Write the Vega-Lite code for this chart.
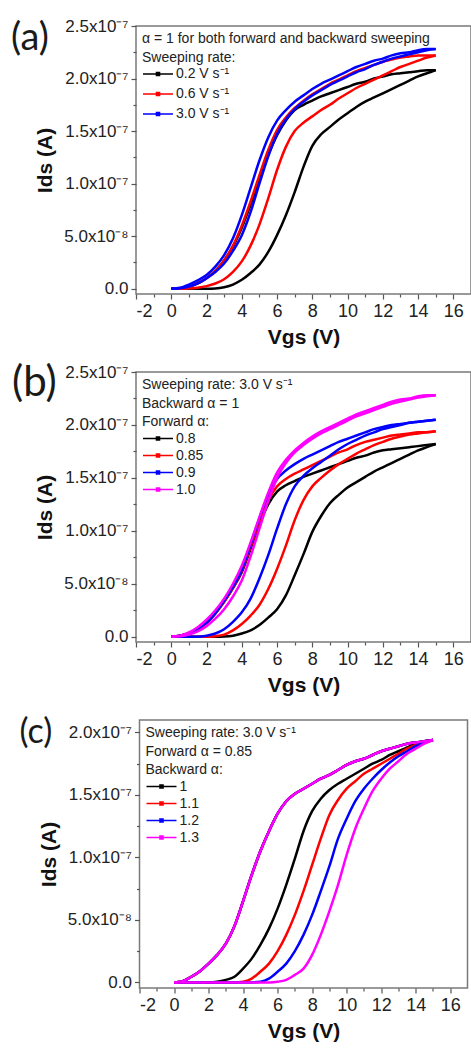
{
"$schema":"https://vega.github.io/schema/vega-lite/v6.json",
"padding":{"left":10,"top":16,"right":0,"bottom":0},
"config":{
 "font":"Liberation Sans",
 "view":{"stroke":"#7a7a7a","strokeWidth":1.5},
 "axis":{"domain":false,"grid":false,"ticks":true,"tickColor":"#555","tickWidth":1.2,"tickSize":5,"labelColor":"#222","labelFontSize":17,"labelPadding":3,"titleColor":"#111","titleFontSize":21,"titleFontWeight":"bold"},
 "legend":{"orient":"top-left","offset":6,"padding":0,"titleFontSize":14,"titleFontWeight":"normal","titleColor":"#222","titleLineHeight":18.5,"titlePadding":1,"titleLimit":400,"labelFontSize":14,"labelColor":"#222","labelOffset":2,"symbolType":"M-1,0H1M-0.1,-0.1H0.1V0.1H-0.1Z","symbolSize":900,"symbolStrokeWidth":1.6,"clipHeight":17,"rowPadding":0},
 "title":{"font":"Lato","fontWeight":"normal","anchor":"start","frame":"group","color":"#1a1a1a"},
 "concat":{"spacing":78}
},
"datasets":{
"a":[
{"s":"0.2 V s⁻¹","d":"f","v":0,"i":0},{"s":"0.2 V s⁻¹","d":"f","v":0.5,"i":0},{"s":"0.2 V s⁻¹","d":"f","v":1,"i":0},{"s":"0.2 V s⁻¹","d":"f","v":1.5,"i":0},{"s":"0.2 V s⁻¹","d":"f","v":2,"i":0},{"s":"0.2 V s⁻¹","d":"f","v":2.5,"i":0.003e-7},{"s":"0.2 V s⁻¹","d":"f","v":3,"i":0.015e-7},{"s":"0.2 V s⁻¹","d":"f","v":3.5,"i":0.04e-7},{"s":"0.2 V s⁻¹","d":"f","v":4,"i":0.085e-7},{"s":"0.2 V s⁻¹","d":"f","v":4.5,"i":0.15e-7},{"s":"0.2 V s⁻¹","d":"f","v":5,"i":0.23e-7},{"s":"0.2 V s⁻¹","d":"f","v":5.5,"i":0.35e-7},{"s":"0.2 V s⁻¹","d":"f","v":6,"i":0.51e-7},{"s":"0.2 V s⁻¹","d":"f","v":6.5,"i":0.70e-7},{"s":"0.2 V s⁻¹","d":"f","v":7,"i":0.92e-7},{"s":"0.2 V s⁻¹","d":"f","v":7.5,"i":1.16e-7},{"s":"0.2 V s⁻¹","d":"f","v":8,"i":1.36e-7},{"s":"0.2 V s⁻¹","d":"f","v":8.5,"i":1.47e-7},{"s":"0.2 V s⁻¹","d":"f","v":9,"i":1.54e-7},{"s":"0.2 V s⁻¹","d":"f","v":9.5,"i":1.61e-7},{"s":"0.2 V s⁻¹","d":"f","v":10,"i":1.67e-7},{"s":"0.2 V s⁻¹","d":"f","v":10.5,"i":1.73e-7},{"s":"0.2 V s⁻¹","d":"f","v":11,"i":1.78e-7},{"s":"0.2 V s⁻¹","d":"f","v":11.5,"i":1.82e-7},{"s":"0.2 V s⁻¹","d":"f","v":12,"i":1.86e-7},{"s":"0.2 V s⁻¹","d":"f","v":12.5,"i":1.90e-7},{"s":"0.2 V s⁻¹","d":"f","v":13,"i":1.94e-7},{"s":"0.2 V s⁻¹","d":"f","v":13.5,"i":1.98e-7},{"s":"0.2 V s⁻¹","d":"f","v":14,"i":2.02e-7},{"s":"0.2 V s⁻¹","d":"f","v":14.5,"i":2.05e-7},{"s":"0.2 V s⁻¹","d":"f","v":15,"i":2.08e-7},
{"s":"0.2 V s⁻¹","d":"b","v":0,"i":0},{"s":"0.2 V s⁻¹","d":"b","v":0.5,"i":0.005e-7},{"s":"0.2 V s⁻¹","d":"b","v":1,"i":0.02e-7},{"s":"0.2 V s⁻¹","d":"b","v":1.5,"i":0.05e-7},{"s":"0.2 V s⁻¹","d":"b","v":2,"i":0.10e-7},{"s":"0.2 V s⁻¹","d":"b","v":2.5,"i":0.17e-7},{"s":"0.2 V s⁻¹","d":"b","v":3,"i":0.27e-7},{"s":"0.2 V s⁻¹","d":"b","v":3.5,"i":0.40e-7},{"s":"0.2 V s⁻¹","d":"b","v":4,"i":0.58e-7},{"s":"0.2 V s⁻¹","d":"b","v":4.5,"i":0.80e-7},{"s":"0.2 V s⁻¹","d":"b","v":5,"i":1.04e-7},{"s":"0.2 V s⁻¹","d":"b","v":5.5,"i":1.27e-7},{"s":"0.2 V s⁻¹","d":"b","v":6,"i":1.46e-7},{"s":"0.2 V s⁻¹","d":"b","v":6.5,"i":1.60e-7},{"s":"0.2 V s⁻¹","d":"b","v":7,"i":1.70e-7},{"s":"0.2 V s⁻¹","d":"b","v":7.5,"i":1.75e-7},{"s":"0.2 V s⁻¹","d":"b","v":8,"i":1.79e-7},{"s":"0.2 V s⁻¹","d":"b","v":8.5,"i":1.83e-7},{"s":"0.2 V s⁻¹","d":"b","v":9,"i":1.86e-7},{"s":"0.2 V s⁻¹","d":"b","v":9.5,"i":1.89e-7},{"s":"0.2 V s⁻¹","d":"b","v":10,"i":1.92e-7},{"s":"0.2 V s⁻¹","d":"b","v":10.5,"i":1.95e-7},{"s":"0.2 V s⁻¹","d":"b","v":11,"i":1.97e-7},{"s":"0.2 V s⁻¹","d":"b","v":11.5,"i":2.00e-7},{"s":"0.2 V s⁻¹","d":"b","v":12,"i":2.02e-7},{"s":"0.2 V s⁻¹","d":"b","v":12.5,"i":2.04e-7},{"s":"0.2 V s⁻¹","d":"b","v":13,"i":2.05e-7},{"s":"0.2 V s⁻¹","d":"b","v":13.5,"i":2.06e-7},{"s":"0.2 V s⁻¹","d":"b","v":14,"i":2.07e-7},{"s":"0.2 V s⁻¹","d":"b","v":14.5,"i":2.08e-7},{"s":"0.2 V s⁻¹","d":"b","v":15,"i":2.08e-7},
{"s":"0.6 V s⁻¹","d":"f","v":0,"i":0},{"s":"0.6 V s⁻¹","d":"f","v":0.5,"i":0},{"s":"0.6 V s⁻¹","d":"f","v":1,"i":0.002e-7},{"s":"0.6 V s⁻¹","d":"f","v":1.5,"i":0.01e-7},{"s":"0.6 V s⁻¹","d":"f","v":2,"i":0.025e-7},{"s":"0.6 V s⁻¹","d":"f","v":2.5,"i":0.05e-7},{"s":"0.6 V s⁻¹","d":"f","v":3,"i":0.09e-7},{"s":"0.6 V s⁻¹","d":"f","v":3.5,"i":0.16e-7},{"s":"0.6 V s⁻¹","d":"f","v":4,"i":0.26e-7},{"s":"0.6 V s⁻¹","d":"f","v":4.5,"i":0.41e-7},{"s":"0.6 V s⁻¹","d":"f","v":5,"i":0.61e-7},{"s":"0.6 V s⁻¹","d":"f","v":5.5,"i":0.86e-7},{"s":"0.6 V s⁻¹","d":"f","v":6,"i":1.13e-7},{"s":"0.6 V s⁻¹","d":"f","v":6.5,"i":1.35e-7},{"s":"0.6 V s⁻¹","d":"f","v":7,"i":1.50e-7},{"s":"0.6 V s⁻¹","d":"f","v":7.5,"i":1.58e-7},{"s":"0.6 V s⁻¹","d":"f","v":8,"i":1.64e-7},{"s":"0.6 V s⁻¹","d":"f","v":8.5,"i":1.70e-7},{"s":"0.6 V s⁻¹","d":"f","v":9,"i":1.75e-7},{"s":"0.6 V s⁻¹","d":"f","v":9.5,"i":1.81e-7},{"s":"0.6 V s⁻¹","d":"f","v":10,"i":1.86e-7},{"s":"0.6 V s⁻¹","d":"f","v":10.5,"i":1.91e-7},{"s":"0.6 V s⁻¹","d":"f","v":11,"i":1.95e-7},{"s":"0.6 V s⁻¹","d":"f","v":11.5,"i":1.99e-7},{"s":"0.6 V s⁻¹","d":"f","v":12,"i":2.03e-7},{"s":"0.6 V s⁻¹","d":"f","v":12.5,"i":2.07e-7},{"s":"0.6 V s⁻¹","d":"f","v":13,"i":2.11e-7},{"s":"0.6 V s⁻¹","d":"f","v":13.5,"i":2.14e-7},{"s":"0.6 V s⁻¹","d":"f","v":14,"i":2.17e-7},{"s":"0.6 V s⁻¹","d":"f","v":14.5,"i":2.20e-7},{"s":"0.6 V s⁻¹","d":"f","v":15,"i":2.22e-7},
{"s":"0.6 V s⁻¹","d":"b","v":0,"i":0},{"s":"0.6 V s⁻¹","d":"b","v":0.5,"i":0.005e-7},{"s":"0.6 V s⁻¹","d":"b","v":1,"i":0.02e-7},{"s":"0.6 V s⁻¹","d":"b","v":1.5,"i":0.05e-7},{"s":"0.6 V s⁻¹","d":"b","v":2,"i":0.10e-7},{"s":"0.6 V s⁻¹","d":"b","v":2.5,"i":0.17e-7},{"s":"0.6 V s⁻¹","d":"b","v":3,"i":0.27e-7},{"s":"0.6 V s⁻¹","d":"b","v":3.5,"i":0.41e-7},{"s":"0.6 V s⁻¹","d":"b","v":4,"i":0.60e-7},{"s":"0.6 V s⁻¹","d":"b","v":4.5,"i":0.83e-7},{"s":"0.6 V s⁻¹","d":"b","v":5,"i":1.08e-7},{"s":"0.6 V s⁻¹","d":"b","v":5.5,"i":1.32e-7},{"s":"0.6 V s⁻¹","d":"b","v":6,"i":1.51e-7},{"s":"0.6 V s⁻¹","d":"b","v":6.5,"i":1.63e-7},{"s":"0.6 V s⁻¹","d":"b","v":7,"i":1.72e-7},{"s":"0.6 V s⁻¹","d":"b","v":7.5,"i":1.79e-7},{"s":"0.6 V s⁻¹","d":"b","v":8,"i":1.85e-7},{"s":"0.6 V s⁻¹","d":"b","v":8.5,"i":1.90e-7},{"s":"0.6 V s⁻¹","d":"b","v":9,"i":1.95e-7},{"s":"0.6 V s⁻¹","d":"b","v":9.5,"i":1.99e-7},{"s":"0.6 V s⁻¹","d":"b","v":10,"i":2.03e-7},{"s":"0.6 V s⁻¹","d":"b","v":10.5,"i":2.07e-7},{"s":"0.6 V s⁻¹","d":"b","v":11,"i":2.10e-7},{"s":"0.6 V s⁻¹","d":"b","v":11.5,"i":2.13e-7},{"s":"0.6 V s⁻¹","d":"b","v":12,"i":2.16e-7},{"s":"0.6 V s⁻¹","d":"b","v":12.5,"i":2.18e-7},{"s":"0.6 V s⁻¹","d":"b","v":13,"i":2.20e-7},{"s":"0.6 V s⁻¹","d":"b","v":13.5,"i":2.21e-7},{"s":"0.6 V s⁻¹","d":"b","v":14,"i":2.22e-7},{"s":"0.6 V s⁻¹","d":"b","v":14.5,"i":2.22e-7},{"s":"0.6 V s⁻¹","d":"b","v":15,"i":2.22e-7},
{"s":"3.0 V s⁻¹","d":"f","v":0,"i":0},{"s":"3.0 V s⁻¹","d":"f","v":0.5,"i":0.005e-7},{"s":"3.0 V s⁻¹","d":"f","v":1,"i":0.02e-7},{"s":"3.0 V s⁻¹","d":"f","v":1.5,"i":0.05e-7},{"s":"3.0 V s⁻¹","d":"f","v":2,"i":0.10e-7},{"s":"3.0 V s⁻¹","d":"f","v":2.5,"i":0.16e-7},{"s":"3.0 V s⁻¹","d":"f","v":3,"i":0.24e-7},{"s":"3.0 V s⁻¹","d":"f","v":3.5,"i":0.36e-7},{"s":"3.0 V s⁻¹","d":"f","v":4,"i":0.51e-7},{"s":"3.0 V s⁻¹","d":"f","v":4.5,"i":0.73e-7},{"s":"3.0 V s⁻¹","d":"f","v":5,"i":1.00e-7},{"s":"3.0 V s⁻¹","d":"f","v":5.5,"i":1.26e-7},{"s":"3.0 V s⁻¹","d":"f","v":6,"i":1.47e-7},{"s":"3.0 V s⁻¹","d":"f","v":6.5,"i":1.61e-7},{"s":"3.0 V s⁻¹","d":"f","v":7,"i":1.71e-7},{"s":"3.0 V s⁻¹","d":"f","v":7.5,"i":1.78e-7},{"s":"3.0 V s⁻¹","d":"f","v":8,"i":1.84e-7},{"s":"3.0 V s⁻¹","d":"f","v":8.5,"i":1.89e-7},{"s":"3.0 V s⁻¹","d":"f","v":9,"i":1.94e-7},{"s":"3.0 V s⁻¹","d":"f","v":9.5,"i":1.98e-7},{"s":"3.0 V s⁻¹","d":"f","v":10,"i":2.02e-7},{"s":"3.0 V s⁻¹","d":"f","v":10.5,"i":2.06e-7},{"s":"3.0 V s⁻¹","d":"f","v":11,"i":2.09e-7},{"s":"3.0 V s⁻¹","d":"f","v":11.5,"i":2.13e-7},{"s":"3.0 V s⁻¹","d":"f","v":12,"i":2.16e-7},{"s":"3.0 V s⁻¹","d":"f","v":12.5,"i":2.19e-7},{"s":"3.0 V s⁻¹","d":"f","v":13,"i":2.21e-7},{"s":"3.0 V s⁻¹","d":"f","v":13.5,"i":2.23e-7},{"s":"3.0 V s⁻¹","d":"f","v":14,"i":2.25e-7},{"s":"3.0 V s⁻¹","d":"f","v":14.5,"i":2.27e-7},{"s":"3.0 V s⁻¹","d":"f","v":15,"i":2.28e-7},
{"s":"3.0 V s⁻¹","d":"b","v":0,"i":0},{"s":"3.0 V s⁻¹","d":"b","v":0.5,"i":0.01e-7},{"s":"3.0 V s⁻¹","d":"b","v":1,"i":0.04e-7},{"s":"3.0 V s⁻¹","d":"b","v":1.5,"i":0.08e-7},{"s":"3.0 V s⁻¹","d":"b","v":2,"i":0.13e-7},{"s":"3.0 V s⁻¹","d":"b","v":2.5,"i":0.21e-7},{"s":"3.0 V s⁻¹","d":"b","v":3,"i":0.32e-7},{"s":"3.0 V s⁻¹","d":"b","v":3.5,"i":0.48e-7},{"s":"3.0 V s⁻¹","d":"b","v":4,"i":0.70e-7},{"s":"3.0 V s⁻¹","d":"b","v":4.5,"i":0.96e-7},{"s":"3.0 V s⁻¹","d":"b","v":5,"i":1.22e-7},{"s":"3.0 V s⁻¹","d":"b","v":5.5,"i":1.44e-7},{"s":"3.0 V s⁻¹","d":"b","v":6,"i":1.60e-7},{"s":"3.0 V s⁻¹","d":"b","v":6.5,"i":1.70e-7},{"s":"3.0 V s⁻¹","d":"b","v":7,"i":1.78e-7},{"s":"3.0 V s⁻¹","d":"b","v":7.5,"i":1.84e-7},{"s":"3.0 V s⁻¹","d":"b","v":8,"i":1.90e-7},{"s":"3.0 V s⁻¹","d":"b","v":8.5,"i":1.95e-7},{"s":"3.0 V s⁻¹","d":"b","v":9,"i":1.99e-7},{"s":"3.0 V s⁻¹","d":"b","v":9.5,"i":2.03e-7},{"s":"3.0 V s⁻¹","d":"b","v":10,"i":2.07e-7},{"s":"3.0 V s⁻¹","d":"b","v":10.5,"i":2.11e-7},{"s":"3.0 V s⁻¹","d":"b","v":11,"i":2.14e-7},{"s":"3.0 V s⁻¹","d":"b","v":11.5,"i":2.17e-7},{"s":"3.0 V s⁻¹","d":"b","v":12,"i":2.19e-7},{"s":"3.0 V s⁻¹","d":"b","v":12.5,"i":2.22e-7},{"s":"3.0 V s⁻¹","d":"b","v":13,"i":2.24e-7},{"s":"3.0 V s⁻¹","d":"b","v":13.5,"i":2.25e-7},{"s":"3.0 V s⁻¹","d":"b","v":14,"i":2.27e-7},{"s":"3.0 V s⁻¹","d":"b","v":14.5,"i":2.28e-7},{"s":"3.0 V s⁻¹","d":"b","v":15,"i":2.28e-7}
],
"b":[
{"s":"0.8","d":"f","v":0,"i":0},{"s":"0.8","d":"f","v":0.5,"i":0},{"s":"0.8","d":"f","v":1,"i":0},{"s":"0.8","d":"f","v":1.5,"i":0},{"s":"0.8","d":"f","v":2,"i":0},{"s":"0.8","d":"f","v":2.5,"i":0},{"s":"0.8","d":"f","v":3,"i":0.002e-7},{"s":"0.8","d":"f","v":3.5,"i":0.01e-7},{"s":"0.8","d":"f","v":4,"i":0.03e-7},{"s":"0.8","d":"f","v":4.5,"i":0.06e-7},{"s":"0.8","d":"f","v":5,"i":0.11e-7},{"s":"0.8","d":"f","v":5.5,"i":0.18e-7},{"s":"0.8","d":"f","v":6,"i":0.26e-7},{"s":"0.8","d":"f","v":6.5,"i":0.39e-7},{"s":"0.8","d":"f","v":7,"i":0.58e-7},{"s":"0.8","d":"f","v":7.5,"i":0.78e-7},{"s":"0.8","d":"f","v":8,"i":0.99e-7},{"s":"0.8","d":"f","v":8.5,"i":1.14e-7},{"s":"0.8","d":"f","v":9,"i":1.26e-7},{"s":"0.8","d":"f","v":9.5,"i":1.34e-7},{"s":"0.8","d":"f","v":10,"i":1.41e-7},{"s":"0.8","d":"f","v":10.5,"i":1.46e-7},{"s":"0.8","d":"f","v":11,"i":1.51e-7},{"s":"0.8","d":"f","v":11.5,"i":1.56e-7},{"s":"0.8","d":"f","v":12,"i":1.60e-7},{"s":"0.8","d":"f","v":12.5,"i":1.64e-7},{"s":"0.8","d":"f","v":13,"i":1.68e-7},{"s":"0.8","d":"f","v":13.5,"i":1.72e-7},{"s":"0.8","d":"f","v":14,"i":1.76e-7},{"s":"0.8","d":"f","v":14.5,"i":1.79e-7},{"s":"0.8","d":"f","v":15,"i":1.82e-7},
{"s":"0.8","d":"b","v":0,"i":0},{"s":"0.8","d":"b","v":0.5,"i":0.01e-7},{"s":"0.8","d":"b","v":1,"i":0.03e-7},{"s":"0.8","d":"b","v":1.5,"i":0.07e-7},{"s":"0.8","d":"b","v":2,"i":0.13e-7},{"s":"0.8","d":"b","v":2.5,"i":0.22e-7},{"s":"0.8","d":"b","v":3,"i":0.33e-7},{"s":"0.8","d":"b","v":3.5,"i":0.46e-7},{"s":"0.8","d":"b","v":4,"i":0.61e-7},{"s":"0.8","d":"b","v":4.5,"i":0.83e-7},{"s":"0.8","d":"b","v":5,"i":1.06e-7},{"s":"0.8","d":"b","v":5.5,"i":1.25e-7},{"s":"0.8","d":"b","v":6,"i":1.37e-7},{"s":"0.8","d":"b","v":6.5,"i":1.43e-7},{"s":"0.8","d":"b","v":7,"i":1.47e-7},{"s":"0.8","d":"b","v":7.5,"i":1.51e-7},{"s":"0.8","d":"b","v":8,"i":1.54e-7},{"s":"0.8","d":"b","v":8.5,"i":1.57e-7},{"s":"0.8","d":"b","v":9,"i":1.60e-7},{"s":"0.8","d":"b","v":9.5,"i":1.63e-7},{"s":"0.8","d":"b","v":10,"i":1.66e-7},{"s":"0.8","d":"b","v":10.5,"i":1.69e-7},{"s":"0.8","d":"b","v":11,"i":1.71e-7},{"s":"0.8","d":"b","v":11.5,"i":1.74e-7},{"s":"0.8","d":"b","v":12,"i":1.76e-7},{"s":"0.8","d":"b","v":12.5,"i":1.77e-7},{"s":"0.8","d":"b","v":13,"i":1.78e-7},{"s":"0.8","d":"b","v":13.5,"i":1.79e-7},{"s":"0.8","d":"b","v":14,"i":1.80e-7},{"s":"0.8","d":"b","v":14.5,"i":1.81e-7},{"s":"0.8","d":"b","v":15,"i":1.82e-7},
{"s":"0.85","d":"f","v":0,"i":0},{"s":"0.85","d":"f","v":0.5,"i":0},{"s":"0.85","d":"f","v":1,"i":0},{"s":"0.85","d":"f","v":1.5,"i":0},{"s":"0.85","d":"f","v":2,"i":0},{"s":"0.85","d":"f","v":2.5,"i":0.005e-7},{"s":"0.85","d":"f","v":3,"i":0.02e-7},{"s":"0.85","d":"f","v":3.5,"i":0.06e-7},{"s":"0.85","d":"f","v":4,"i":0.12e-7},{"s":"0.85","d":"f","v":4.5,"i":0.20e-7},{"s":"0.85","d":"f","v":5,"i":0.30e-7},{"s":"0.85","d":"f","v":5.5,"i":0.45e-7},{"s":"0.85","d":"f","v":6,"i":0.64e-7},{"s":"0.85","d":"f","v":6.5,"i":0.86e-7},{"s":"0.85","d":"f","v":7,"i":1.10e-7},{"s":"0.85","d":"f","v":7.5,"i":1.29e-7},{"s":"0.85","d":"f","v":8,"i":1.42e-7},{"s":"0.85","d":"f","v":8.5,"i":1.50e-7},{"s":"0.85","d":"f","v":9,"i":1.57e-7},{"s":"0.85","d":"f","v":9.5,"i":1.63e-7},{"s":"0.85","d":"f","v":10,"i":1.68e-7},{"s":"0.85","d":"f","v":10.5,"i":1.73e-7},{"s":"0.85","d":"f","v":11,"i":1.77e-7},{"s":"0.85","d":"f","v":11.5,"i":1.81e-7},{"s":"0.85","d":"f","v":12,"i":1.84e-7},{"s":"0.85","d":"f","v":12.5,"i":1.87e-7},{"s":"0.85","d":"f","v":13,"i":1.89e-7},{"s":"0.85","d":"f","v":13.5,"i":1.91e-7},{"s":"0.85","d":"f","v":14,"i":1.92e-7},{"s":"0.85","d":"f","v":14.5,"i":1.93e-7},{"s":"0.85","d":"f","v":15,"i":1.94e-7},
{"s":"0.85","d":"b","v":0,"i":0},{"s":"0.85","d":"b","v":0.5,"i":0.01e-7},{"s":"0.85","d":"b","v":1,"i":0.03e-7},{"s":"0.85","d":"b","v":1.5,"i":0.07e-7},{"s":"0.85","d":"b","v":2,"i":0.13e-7},{"s":"0.85","d":"b","v":2.5,"i":0.22e-7},{"s":"0.85","d":"b","v":3,"i":0.33e-7},{"s":"0.85","d":"b","v":3.5,"i":0.46e-7},{"s":"0.85","d":"b","v":4,"i":0.62e-7},{"s":"0.85","d":"b","v":4.5,"i":0.85e-7},{"s":"0.85","d":"b","v":5,"i":1.09e-7},{"s":"0.85","d":"b","v":5.5,"i":1.29e-7},{"s":"0.85","d":"b","v":6,"i":1.42e-7},{"s":"0.85","d":"b","v":6.5,"i":1.49e-7},{"s":"0.85","d":"b","v":7,"i":1.54e-7},{"s":"0.85","d":"b","v":7.5,"i":1.58e-7},{"s":"0.85","d":"b","v":8,"i":1.62e-7},{"s":"0.85","d":"b","v":8.5,"i":1.66e-7},{"s":"0.85","d":"b","v":9,"i":1.70e-7},{"s":"0.85","d":"b","v":9.5,"i":1.74e-7},{"s":"0.85","d":"b","v":10,"i":1.77e-7},{"s":"0.85","d":"b","v":10.5,"i":1.81e-7},{"s":"0.85","d":"b","v":11,"i":1.84e-7},{"s":"0.85","d":"b","v":11.5,"i":1.86e-7},{"s":"0.85","d":"b","v":12,"i":1.88e-7},{"s":"0.85","d":"b","v":12.5,"i":1.90e-7},{"s":"0.85","d":"b","v":13,"i":1.91e-7},{"s":"0.85","d":"b","v":13.5,"i":1.92e-7},{"s":"0.85","d":"b","v":14,"i":1.93e-7},{"s":"0.85","d":"b","v":14.5,"i":1.93e-7},{"s":"0.85","d":"b","v":15,"i":1.94e-7},
{"s":"0.9","d":"f","v":0,"i":0},{"s":"0.9","d":"f","v":0.5,"i":0},{"s":"0.9","d":"f","v":1,"i":0},{"s":"0.9","d":"f","v":1.5,"i":0},{"s":"0.9","d":"f","v":2,"i":0.01e-7},{"s":"0.9","d":"f","v":2.5,"i":0.03e-7},{"s":"0.9","d":"f","v":3,"i":0.07e-7},{"s":"0.9","d":"f","v":3.5,"i":0.14e-7},{"s":"0.9","d":"f","v":4,"i":0.23e-7},{"s":"0.9","d":"f","v":4.5,"i":0.36e-7},{"s":"0.9","d":"f","v":5,"i":0.55e-7},{"s":"0.9","d":"f","v":5.5,"i":0.77e-7},{"s":"0.9","d":"f","v":6,"i":1.02e-7},{"s":"0.9","d":"f","v":6.5,"i":1.25e-7},{"s":"0.9","d":"f","v":7,"i":1.42e-7},{"s":"0.9","d":"f","v":7.5,"i":1.52e-7},{"s":"0.9","d":"f","v":8,"i":1.59e-7},{"s":"0.9","d":"f","v":8.5,"i":1.65e-7},{"s":"0.9","d":"f","v":9,"i":1.71e-7},{"s":"0.9","d":"f","v":9.5,"i":1.77e-7},{"s":"0.9","d":"f","v":10,"i":1.82e-7},{"s":"0.9","d":"f","v":10.5,"i":1.86e-7},{"s":"0.9","d":"f","v":11,"i":1.90e-7},{"s":"0.9","d":"f","v":11.5,"i":1.93e-7},{"s":"0.9","d":"f","v":12,"i":1.96e-7},{"s":"0.9","d":"f","v":12.5,"i":1.98e-7},{"s":"0.9","d":"f","v":13,"i":2.00e-7},{"s":"0.9","d":"f","v":13.5,"i":2.02e-7},{"s":"0.9","d":"f","v":14,"i":2.03e-7},{"s":"0.9","d":"f","v":14.5,"i":2.04e-7},{"s":"0.9","d":"f","v":15,"i":2.05e-7},
{"s":"0.9","d":"b","v":0,"i":0},{"s":"0.9","d":"b","v":0.5,"i":0.01e-7},{"s":"0.9","d":"b","v":1,"i":0.03e-7},{"s":"0.9","d":"b","v":1.5,"i":0.07e-7},{"s":"0.9","d":"b","v":2,"i":0.13e-7},{"s":"0.9","d":"b","v":2.5,"i":0.22e-7},{"s":"0.9","d":"b","v":3,"i":0.34e-7},{"s":"0.9","d":"b","v":3.5,"i":0.47e-7},{"s":"0.9","d":"b","v":4,"i":0.63e-7},{"s":"0.9","d":"b","v":4.5,"i":0.87e-7},{"s":"0.9","d":"b","v":5,"i":1.12e-7},{"s":"0.9","d":"b","v":5.5,"i":1.34e-7},{"s":"0.9","d":"b","v":6,"i":1.49e-7},{"s":"0.9","d":"b","v":6.5,"i":1.57e-7},{"s":"0.9","d":"b","v":7,"i":1.63e-7},{"s":"0.9","d":"b","v":7.5,"i":1.68e-7},{"s":"0.9","d":"b","v":8,"i":1.72e-7},{"s":"0.9","d":"b","v":8.5,"i":1.76e-7},{"s":"0.9","d":"b","v":9,"i":1.80e-7},{"s":"0.9","d":"b","v":9.5,"i":1.84e-7},{"s":"0.9","d":"b","v":10,"i":1.87e-7},{"s":"0.9","d":"b","v":10.5,"i":1.90e-7},{"s":"0.9","d":"b","v":11,"i":1.93e-7},{"s":"0.9","d":"b","v":11.5,"i":1.96e-7},{"s":"0.9","d":"b","v":12,"i":1.98e-7},{"s":"0.9","d":"b","v":12.5,"i":2.00e-7},{"s":"0.9","d":"b","v":13,"i":2.01e-7},{"s":"0.9","d":"b","v":13.5,"i":2.02e-7},{"s":"0.9","d":"b","v":14,"i":2.03e-7},{"s":"0.9","d":"b","v":14.5,"i":2.04e-7},{"s":"0.9","d":"b","v":15,"i":2.05e-7},
{"s":"1.0","d":"f","v":0,"i":0},{"s":"1.0","d":"f","v":0.5,"i":0.005e-7},{"s":"1.0","d":"f","v":1,"i":0.02e-7},{"s":"1.0","d":"f","v":1.5,"i":0.05e-7},{"s":"1.0","d":"f","v":2,"i":0.10e-7},{"s":"1.0","d":"f","v":2.5,"i":0.17e-7},{"s":"1.0","d":"f","v":3,"i":0.26e-7},{"s":"1.0","d":"f","v":3.5,"i":0.38e-7},{"s":"1.0","d":"f","v":4,"i":0.53e-7},{"s":"1.0","d":"f","v":4.5,"i":0.76e-7},{"s":"1.0","d":"f","v":5,"i":1.02e-7},{"s":"1.0","d":"f","v":5.5,"i":1.28e-7},{"s":"1.0","d":"f","v":6,"i":1.50e-7},{"s":"1.0","d":"f","v":6.5,"i":1.64e-7},{"s":"1.0","d":"f","v":7,"i":1.74e-7},{"s":"1.0","d":"f","v":7.5,"i":1.81e-7},{"s":"1.0","d":"f","v":8,"i":1.87e-7},{"s":"1.0","d":"f","v":8.5,"i":1.92e-7},{"s":"1.0","d":"f","v":9,"i":1.96e-7},{"s":"1.0","d":"f","v":9.5,"i":2.00e-7},{"s":"1.0","d":"f","v":10,"i":2.04e-7},{"s":"1.0","d":"f","v":10.5,"i":2.08e-7},{"s":"1.0","d":"f","v":11,"i":2.11e-7},{"s":"1.0","d":"f","v":11.5,"i":2.14e-7},{"s":"1.0","d":"f","v":12,"i":2.17e-7},{"s":"1.0","d":"f","v":12.5,"i":2.20e-7},{"s":"1.0","d":"f","v":13,"i":2.22e-7},{"s":"1.0","d":"f","v":13.5,"i":2.24e-7},{"s":"1.0","d":"f","v":14,"i":2.26e-7},{"s":"1.0","d":"f","v":14.5,"i":2.27e-7},{"s":"1.0","d":"f","v":15,"i":2.28e-7},
{"s":"1.0","d":"b","v":0,"i":0},{"s":"1.0","d":"b","v":0.5,"i":0.01e-7},{"s":"1.0","d":"b","v":1,"i":0.04e-7},{"s":"1.0","d":"b","v":1.5,"i":0.09e-7},{"s":"1.0","d":"b","v":2,"i":0.16e-7},{"s":"1.0","d":"b","v":2.5,"i":0.25e-7},{"s":"1.0","d":"b","v":3,"i":0.36e-7},{"s":"1.0","d":"b","v":3.5,"i":0.50e-7},{"s":"1.0","d":"b","v":4,"i":0.67e-7},{"s":"1.0","d":"b","v":4.5,"i":0.89e-7},{"s":"1.0","d":"b","v":5,"i":1.13e-7},{"s":"1.0","d":"b","v":5.5,"i":1.36e-7},{"s":"1.0","d":"b","v":6,"i":1.55e-7},{"s":"1.0","d":"b","v":6.5,"i":1.67e-7},{"s":"1.0","d":"b","v":7,"i":1.76e-7},{"s":"1.0","d":"b","v":7.5,"i":1.83e-7},{"s":"1.0","d":"b","v":8,"i":1.89e-7},{"s":"1.0","d":"b","v":8.5,"i":1.94e-7},{"s":"1.0","d":"b","v":9,"i":1.98e-7},{"s":"1.0","d":"b","v":9.5,"i":2.02e-7},{"s":"1.0","d":"b","v":10,"i":2.06e-7},{"s":"1.0","d":"b","v":10.5,"i":2.10e-7},{"s":"1.0","d":"b","v":11,"i":2.13e-7},{"s":"1.0","d":"b","v":11.5,"i":2.16e-7},{"s":"1.0","d":"b","v":12,"i":2.19e-7},{"s":"1.0","d":"b","v":12.5,"i":2.22e-7},{"s":"1.0","d":"b","v":13,"i":2.24e-7},{"s":"1.0","d":"b","v":13.5,"i":2.25e-7},{"s":"1.0","d":"b","v":14,"i":2.27e-7},{"s":"1.0","d":"b","v":14.5,"i":2.28e-7},{"s":"1.0","d":"b","v":15,"i":2.28e-7}
],
"c":[
{"s":"1","d":"f","v":0,"i":0},{"s":"1","d":"f","v":0.5,"i":0.01e-7},{"s":"1","d":"f","v":1,"i":0.045e-7},{"s":"1","d":"f","v":1.5,"i":0.09e-7},{"s":"1","d":"f","v":2,"i":0.15e-7},{"s":"1","d":"f","v":2.5,"i":0.22e-7},{"s":"1","d":"f","v":3,"i":0.31e-7},{"s":"1","d":"f","v":3.5,"i":0.45e-7},{"s":"1","d":"f","v":4,"i":0.65e-7},{"s":"1","d":"f","v":4.5,"i":0.86e-7},{"s":"1","d":"f","v":5,"i":1.05e-7},{"s":"1","d":"f","v":5.5,"i":1.21e-7},{"s":"1","d":"f","v":6,"i":1.35e-7},{"s":"1","d":"f","v":6.5,"i":1.45e-7},{"s":"1","d":"f","v":7,"i":1.51e-7},{"s":"1","d":"f","v":7.5,"i":1.55e-7},{"s":"1","d":"f","v":8,"i":1.59e-7},{"s":"1","d":"f","v":8.5,"i":1.63e-7},{"s":"1","d":"f","v":9,"i":1.66e-7},{"s":"1","d":"f","v":9.5,"i":1.70e-7},{"s":"1","d":"f","v":10,"i":1.74e-7},{"s":"1","d":"f","v":10.5,"i":1.77e-7},{"s":"1","d":"f","v":11,"i":1.79e-7},{"s":"1","d":"f","v":11.5,"i":1.82e-7},{"s":"1","d":"f","v":12,"i":1.85e-7},{"s":"1","d":"f","v":12.5,"i":1.87e-7},{"s":"1","d":"f","v":13,"i":1.89e-7},{"s":"1","d":"f","v":13.5,"i":1.91e-7},{"s":"1","d":"f","v":14,"i":1.92e-7},{"s":"1","d":"f","v":14.5,"i":1.93e-7},{"s":"1","d":"f","v":15,"i":1.94e-7},
{"s":"1","d":"b","v":0,"i":0},{"s":"1","d":"b","v":0.5,"i":0},{"s":"1","d":"b","v":1,"i":0},{"s":"1","d":"b","v":1.5,"i":0},{"s":"1","d":"b","v":2,"i":0},{"s":"1","d":"b","v":2.5,"i":0.005e-7},{"s":"1","d":"b","v":3,"i":0.02e-7},{"s":"1","d":"b","v":3.5,"i":0.045e-7},{"s":"1","d":"b","v":4,"i":0.11e-7},{"s":"1","d":"b","v":4.5,"i":0.19e-7},{"s":"1","d":"b","v":5,"i":0.30e-7},{"s":"1","d":"b","v":5.5,"i":0.43e-7},{"s":"1","d":"b","v":6,"i":0.59e-7},{"s":"1","d":"b","v":6.5,"i":0.78e-7},{"s":"1","d":"b","v":7,"i":0.99e-7},{"s":"1","d":"b","v":7.5,"i":1.21e-7},{"s":"1","d":"b","v":8,"i":1.37e-7},{"s":"1","d":"b","v":8.5,"i":1.47e-7},{"s":"1","d":"b","v":9,"i":1.54e-7},{"s":"1","d":"b","v":9.5,"i":1.59e-7},{"s":"1","d":"b","v":10,"i":1.63e-7},{"s":"1","d":"b","v":10.5,"i":1.67e-7},{"s":"1","d":"b","v":11,"i":1.71e-7},{"s":"1","d":"b","v":11.5,"i":1.75e-7},{"s":"1","d":"b","v":12,"i":1.78e-7},{"s":"1","d":"b","v":12.5,"i":1.82e-7},{"s":"1","d":"b","v":13,"i":1.85e-7},{"s":"1","d":"b","v":13.5,"i":1.88e-7},{"s":"1","d":"b","v":14,"i":1.91e-7},{"s":"1","d":"b","v":14.5,"i":1.93e-7},{"s":"1","d":"b","v":15,"i":1.94e-7},
{"s":"1.1","d":"f","v":0,"i":0},{"s":"1.1","d":"f","v":0.5,"i":0.01e-7},{"s":"1.1","d":"f","v":1,"i":0.045e-7},{"s":"1.1","d":"f","v":1.5,"i":0.09e-7},{"s":"1.1","d":"f","v":2,"i":0.15e-7},{"s":"1.1","d":"f","v":2.5,"i":0.22e-7},{"s":"1.1","d":"f","v":3,"i":0.31e-7},{"s":"1.1","d":"f","v":3.5,"i":0.45e-7},{"s":"1.1","d":"f","v":4,"i":0.65e-7},{"s":"1.1","d":"f","v":4.5,"i":0.86e-7},{"s":"1.1","d":"f","v":5,"i":1.05e-7},{"s":"1.1","d":"f","v":5.5,"i":1.21e-7},{"s":"1.1","d":"f","v":6,"i":1.35e-7},{"s":"1.1","d":"f","v":6.5,"i":1.45e-7},{"s":"1.1","d":"f","v":7,"i":1.51e-7},{"s":"1.1","d":"f","v":7.5,"i":1.55e-7},{"s":"1.1","d":"f","v":8,"i":1.59e-7},{"s":"1.1","d":"f","v":8.5,"i":1.63e-7},{"s":"1.1","d":"f","v":9,"i":1.66e-7},{"s":"1.1","d":"f","v":9.5,"i":1.70e-7},{"s":"1.1","d":"f","v":10,"i":1.74e-7},{"s":"1.1","d":"f","v":10.5,"i":1.77e-7},{"s":"1.1","d":"f","v":11,"i":1.79e-7},{"s":"1.1","d":"f","v":11.5,"i":1.82e-7},{"s":"1.1","d":"f","v":12,"i":1.85e-7},{"s":"1.1","d":"f","v":12.5,"i":1.87e-7},{"s":"1.1","d":"f","v":13,"i":1.89e-7},{"s":"1.1","d":"f","v":13.5,"i":1.91e-7},{"s":"1.1","d":"f","v":14,"i":1.92e-7},{"s":"1.1","d":"f","v":14.5,"i":1.93e-7},{"s":"1.1","d":"f","v":15,"i":1.94e-7},
{"s":"1.1","d":"b","v":0,"i":0},{"s":"1.1","d":"b","v":0.5,"i":0},{"s":"1.1","d":"b","v":1,"i":0},{"s":"1.1","d":"b","v":1.5,"i":0},{"s":"1.1","d":"b","v":2,"i":0},{"s":"1.1","d":"b","v":2.5,"i":0},{"s":"1.1","d":"b","v":3,"i":0},{"s":"1.1","d":"b","v":3.5,"i":0},{"s":"1.1","d":"b","v":4,"i":0.005e-7},{"s":"1.1","d":"b","v":4.5,"i":0.03e-7},{"s":"1.1","d":"b","v":5,"i":0.085e-7},{"s":"1.1","d":"b","v":5.5,"i":0.15e-7},{"s":"1.1","d":"b","v":6,"i":0.25e-7},{"s":"1.1","d":"b","v":6.5,"i":0.38e-7},{"s":"1.1","d":"b","v":7,"i":0.54e-7},{"s":"1.1","d":"b","v":7.5,"i":0.73e-7},{"s":"1.1","d":"b","v":8,"i":0.94e-7},{"s":"1.1","d":"b","v":8.5,"i":1.15e-7},{"s":"1.1","d":"b","v":9,"i":1.34e-7},{"s":"1.1","d":"b","v":9.5,"i":1.46e-7},{"s":"1.1","d":"b","v":10,"i":1.55e-7},{"s":"1.1","d":"b","v":10.5,"i":1.61e-7},{"s":"1.1","d":"b","v":11,"i":1.67e-7},{"s":"1.1","d":"b","v":11.5,"i":1.71e-7},{"s":"1.1","d":"b","v":12,"i":1.75e-7},{"s":"1.1","d":"b","v":12.5,"i":1.79e-7},{"s":"1.1","d":"b","v":13,"i":1.83e-7},{"s":"1.1","d":"b","v":13.5,"i":1.87e-7},{"s":"1.1","d":"b","v":14,"i":1.90e-7},{"s":"1.1","d":"b","v":14.5,"i":1.92e-7},{"s":"1.1","d":"b","v":15,"i":1.94e-7},
{"s":"1.2","d":"f","v":0,"i":0},{"s":"1.2","d":"f","v":0.5,"i":0.01e-7},{"s":"1.2","d":"f","v":1,"i":0.045e-7},{"s":"1.2","d":"f","v":1.5,"i":0.09e-7},{"s":"1.2","d":"f","v":2,"i":0.15e-7},{"s":"1.2","d":"f","v":2.5,"i":0.22e-7},{"s":"1.2","d":"f","v":3,"i":0.31e-7},{"s":"1.2","d":"f","v":3.5,"i":0.45e-7},{"s":"1.2","d":"f","v":4,"i":0.65e-7},{"s":"1.2","d":"f","v":4.5,"i":0.86e-7},{"s":"1.2","d":"f","v":5,"i":1.05e-7},{"s":"1.2","d":"f","v":5.5,"i":1.21e-7},{"s":"1.2","d":"f","v":6,"i":1.35e-7},{"s":"1.2","d":"f","v":6.5,"i":1.45e-7},{"s":"1.2","d":"f","v":7,"i":1.51e-7},{"s":"1.2","d":"f","v":7.5,"i":1.55e-7},{"s":"1.2","d":"f","v":8,"i":1.59e-7},{"s":"1.2","d":"f","v":8.5,"i":1.63e-7},{"s":"1.2","d":"f","v":9,"i":1.66e-7},{"s":"1.2","d":"f","v":9.5,"i":1.70e-7},{"s":"1.2","d":"f","v":10,"i":1.74e-7},{"s":"1.2","d":"f","v":10.5,"i":1.77e-7},{"s":"1.2","d":"f","v":11,"i":1.79e-7},{"s":"1.2","d":"f","v":11.5,"i":1.82e-7},{"s":"1.2","d":"f","v":12,"i":1.85e-7},{"s":"1.2","d":"f","v":12.5,"i":1.87e-7},{"s":"1.2","d":"f","v":13,"i":1.89e-7},{"s":"1.2","d":"f","v":13.5,"i":1.91e-7},{"s":"1.2","d":"f","v":14,"i":1.92e-7},{"s":"1.2","d":"f","v":14.5,"i":1.93e-7},{"s":"1.2","d":"f","v":15,"i":1.94e-7},
{"s":"1.2","d":"b","v":0,"i":0},{"s":"1.2","d":"b","v":0.5,"i":0},{"s":"1.2","d":"b","v":1,"i":0},{"s":"1.2","d":"b","v":1.5,"i":0},{"s":"1.2","d":"b","v":2,"i":0},{"s":"1.2","d":"b","v":2.5,"i":0},{"s":"1.2","d":"b","v":3,"i":0},{"s":"1.2","d":"b","v":3.5,"i":0},{"s":"1.2","d":"b","v":4,"i":0},{"s":"1.2","d":"b","v":4.5,"i":0},{"s":"1.2","d":"b","v":5,"i":0.005e-7},{"s":"1.2","d":"b","v":5.5,"i":0.03e-7},{"s":"1.2","d":"b","v":6,"i":0.085e-7},{"s":"1.2","d":"b","v":6.5,"i":0.15e-7},{"s":"1.2","d":"b","v":7,"i":0.25e-7},{"s":"1.2","d":"b","v":7.5,"i":0.38e-7},{"s":"1.2","d":"b","v":8,"i":0.54e-7},{"s":"1.2","d":"b","v":8.5,"i":0.73e-7},{"s":"1.2","d":"b","v":9,"i":0.93e-7},{"s":"1.2","d":"b","v":9.5,"i":1.15e-7},{"s":"1.2","d":"b","v":10,"i":1.31e-7},{"s":"1.2","d":"b","v":10.5,"i":1.45e-7},{"s":"1.2","d":"b","v":11,"i":1.55e-7},{"s":"1.2","d":"b","v":11.5,"i":1.63e-7},{"s":"1.2","d":"b","v":12,"i":1.70e-7},{"s":"1.2","d":"b","v":12.5,"i":1.76e-7},{"s":"1.2","d":"b","v":13,"i":1.81e-7},{"s":"1.2","d":"b","v":13.5,"i":1.85e-7},{"s":"1.2","d":"b","v":14,"i":1.89e-7},{"s":"1.2","d":"b","v":14.5,"i":1.92e-7},{"s":"1.2","d":"b","v":15,"i":1.94e-7},
{"s":"1.3","d":"f","v":0,"i":0},{"s":"1.3","d":"f","v":0.5,"i":0.01e-7},{"s":"1.3","d":"f","v":1,"i":0.045e-7},{"s":"1.3","d":"f","v":1.5,"i":0.09e-7},{"s":"1.3","d":"f","v":2,"i":0.15e-7},{"s":"1.3","d":"f","v":2.5,"i":0.22e-7},{"s":"1.3","d":"f","v":3,"i":0.31e-7},{"s":"1.3","d":"f","v":3.5,"i":0.45e-7},{"s":"1.3","d":"f","v":4,"i":0.65e-7},{"s":"1.3","d":"f","v":4.5,"i":0.86e-7},{"s":"1.3","d":"f","v":5,"i":1.05e-7},{"s":"1.3","d":"f","v":5.5,"i":1.21e-7},{"s":"1.3","d":"f","v":6,"i":1.35e-7},{"s":"1.3","d":"f","v":6.5,"i":1.45e-7},{"s":"1.3","d":"f","v":7,"i":1.51e-7},{"s":"1.3","d":"f","v":7.5,"i":1.55e-7},{"s":"1.3","d":"f","v":8,"i":1.59e-7},{"s":"1.3","d":"f","v":8.5,"i":1.63e-7},{"s":"1.3","d":"f","v":9,"i":1.66e-7},{"s":"1.3","d":"f","v":9.5,"i":1.70e-7},{"s":"1.3","d":"f","v":10,"i":1.74e-7},{"s":"1.3","d":"f","v":10.5,"i":1.77e-7},{"s":"1.3","d":"f","v":11,"i":1.79e-7},{"s":"1.3","d":"f","v":11.5,"i":1.82e-7},{"s":"1.3","d":"f","v":12,"i":1.85e-7},{"s":"1.3","d":"f","v":12.5,"i":1.87e-7},{"s":"1.3","d":"f","v":13,"i":1.89e-7},{"s":"1.3","d":"f","v":13.5,"i":1.91e-7},{"s":"1.3","d":"f","v":14,"i":1.92e-7},{"s":"1.3","d":"f","v":14.5,"i":1.93e-7},{"s":"1.3","d":"f","v":15,"i":1.94e-7},
{"s":"1.3","d":"b","v":0,"i":0},{"s":"1.3","d":"b","v":0.5,"i":0},{"s":"1.3","d":"b","v":1,"i":0},{"s":"1.3","d":"b","v":1.5,"i":0},{"s":"1.3","d":"b","v":2,"i":0},{"s":"1.3","d":"b","v":2.5,"i":0},{"s":"1.3","d":"b","v":3,"i":0},{"s":"1.3","d":"b","v":3.5,"i":0},{"s":"1.3","d":"b","v":4,"i":0},{"s":"1.3","d":"b","v":4.5,"i":0},{"s":"1.3","d":"b","v":5,"i":0},{"s":"1.3","d":"b","v":5.5,"i":0},{"s":"1.3","d":"b","v":6,"i":0.005e-7},{"s":"1.3","d":"b","v":6.5,"i":0.02e-7},{"s":"1.3","d":"b","v":7,"i":0.06e-7},{"s":"1.3","d":"b","v":7.5,"i":0.11e-7},{"s":"1.3","d":"b","v":8,"i":0.22e-7},{"s":"1.3","d":"b","v":8.5,"i":0.38e-7},{"s":"1.3","d":"b","v":9,"i":0.57e-7},{"s":"1.3","d":"b","v":9.5,"i":0.78e-7},{"s":"1.3","d":"b","v":10,"i":1.02e-7},{"s":"1.3","d":"b","v":10.5,"i":1.23e-7},{"s":"1.3","d":"b","v":11,"i":1.39e-7},{"s":"1.3","d":"b","v":11.5,"i":1.53e-7},{"s":"1.3","d":"b","v":12,"i":1.63e-7},{"s":"1.3","d":"b","v":12.5,"i":1.71e-7},{"s":"1.3","d":"b","v":13,"i":1.77e-7},{"s":"1.3","d":"b","v":13.5,"i":1.83e-7},{"s":"1.3","d":"b","v":14,"i":1.87e-7},{"s":"1.3","d":"b","v":14.5,"i":1.91e-7},{"s":"1.3","d":"b","v":15,"i":1.94e-7}
]
},
"bounds":"flush",
"center":true,
"resolve":{"scale":{"color":"independent","x":"independent","y":"independent"},"legend":{"color":"independent"}},
"vconcat":[
{
 "width":335,"height":268,
 "title":{"text":"(a)","fontSize":38,"dx":-125,"dy":45},
 "data":{"name":"a"},
 "layer":[
  {"mark":{"type":"point","opacity":0},
   "encoding":{
    "x":{"field":"v","type":"quantitative","scale":{"domain":[-2,17],"nice":false,"zero":false},"axis":{"orient":"bottom","values":[-1,1,3,5,7,9,11,13,15],"labels":false,"tickSize":3,"title":null}},
    "y":{"field":"i","type":"quantitative","scale":{"domain":[-5e-9,2.5e-7],"nice":false,"zero":false},"axis":{"orient":"left","values":[2.5e-8,7.5e-8,1.25e-7,1.75e-7,2.25e-7],"labels":false,"tickSize":3,"title":null}}
   }},
  {"mark":{"type":"line","strokeWidth":2.5,"interpolate":"monotone"},
   "encoding":{
    "x":{"field":"v","type":"quantitative","axis":{"orient":"bottom","values":[-2,0,2,4,6,8,10,12,14,16],"labelExpr":"datum.value + ''","labelFontSize":18,"title":"Vgs (V)","titlePadding":6}},
    "y":{"field":"i","type":"quantitative","axis":{"orient":"left","values":[0,5e-8,1e-7,1.5e-7,2e-7,2.5e-7],"labelExpr":"datum.value == 0 ? '0.0' : datum.value < 9e-8 ? format(datum.value*1e8, '.1f') + 'x10⁻⁸' : format(datum.value*1e7, '.1f') + 'x10⁻⁷'","title":"Ids (A)","titlePadding":8}},
    "color":{"field":"s","type":"nominal","scale":{"domain":["0.2 V s⁻¹","0.6 V s⁻¹","3.0 V s⁻¹"],"range":["#000000","#ff0000","#0000ff"]},"legend":{"title":["α = 1 for both forward and backward sweeping","Sweeping rate:"],"rowPadding":3}},
    "detail":{"field":"d","type":"nominal"}
   }}
 ],
 "resolve":{"axis":{"x":"independent","y":"independent"}}
},
{
 "width":335,"height":270,
 "title":{"text":"(b)","fontSize":42,"dx":-124,"dy":46},
 "data":{"name":"b"},
 "layer":[
  {"mark":{"type":"point","opacity":0},
   "encoding":{
    "x":{"field":"v","type":"quantitative","scale":{"domain":[-2,17],"nice":false,"zero":false},"axis":{"orient":"bottom","values":[-1,1,3,5,7,9,11,13,15],"labels":false,"tickSize":3,"title":null}},
    "y":{"field":"i","type":"quantitative","scale":{"domain":[-5e-9,2.5e-7],"nice":false,"zero":false},"axis":{"orient":"left","values":[2.5e-8,7.5e-8,1.25e-7,1.75e-7,2.25e-7],"labels":false,"tickSize":3,"title":null}}
   }},
  {"mark":{"type":"line","strokeWidth":2.5,"interpolate":"monotone"},
   "encoding":{
    "x":{"field":"v","type":"quantitative","axis":{"orient":"bottom","values":[-2,0,2,4,6,8,10,12,14,16],"labelExpr":"datum.value + ''","labelFontSize":18,"title":"Vgs (V)","titlePadding":6}},
    "y":{"field":"i","type":"quantitative","axis":{"orient":"left","values":[0,5e-8,1e-7,1.5e-7,2e-7,2.5e-7],"labelExpr":"datum.value == 0 ? '0.0' : datum.value < 9e-8 ? format(datum.value*1e8, '.1f') + 'x10⁻⁸' : format(datum.value*1e7, '.1f') + 'x10⁻⁷'","title":"Ids (A)","titlePadding":8}},
    "color":{"field":"s","type":"nominal","scale":{"domain":["0.8","0.85","0.9","1.0"],"range":["#000000","#ff0000","#0000ff","#ff00ff"]},"legend":{"title":["Sweeping rate: 3.0 V s⁻¹","Backward α = 1","Forward α:"]}},
    "detail":{"field":"d","type":"nominal"}
   }}
 ],
 "resolve":{"axis":{"x":"independent","y":"independent"}}
},
{
 "width":328,"height":268,
 "title":{"text":"(c)","fontSize":34,"dx":-120,"dy":34},
 "data":{"name":"c"},
 "layer":[
  {"mark":{"type":"point","opacity":0},
   "encoding":{
    "x":{"field":"v","type":"quantitative","scale":{"domain":[-2,17],"nice":false,"zero":false},"axis":{"orient":"bottom","values":[-1,1,3,5,7,9,11,13,15],"labels":false,"tickSize":3,"title":null}},
    "y":{"field":"i","type":"quantitative","scale":{"domain":[-4.5e-9,2.1e-7],"nice":false,"zero":false},"axis":{"orient":"left","values":[2.5e-8,7.5e-8,1.25e-7,1.75e-7],"labels":false,"tickSize":3,"title":null}}
   }},
  {"mark":{"type":"line","strokeWidth":2.5,"interpolate":"monotone"},
   "encoding":{
    "x":{"field":"v","type":"quantitative","axis":{"orient":"bottom","values":[-2,0,2,4,6,8,10,12,14,16],"labelExpr":"datum.value + ''","labelFontSize":18,"title":"Vgs (V)","titlePadding":6}},
    "y":{"field":"i","type":"quantitative","axis":{"orient":"left","values":[0,5e-8,1e-7,1.5e-7,2e-7],"labelExpr":"datum.value == 0 ? '0.0' : datum.value < 9e-8 ? format(datum.value*1e8, '.1f') + 'x10⁻⁸' : format(datum.value*1e7, '.1f') + 'x10⁻⁷'","title":"Ids (A)","titlePadding":8}},
    "color":{"field":"s","type":"nominal","scale":{"domain":["1","1.1","1.2","1.3"],"range":["#000000","#ff0000","#0000ff","#ff00ff"]},"legend":{"title":["Sweeping rate: 3.0 V s⁻¹","Forward α = 0.85","Backward α:"]}},
    "detail":{"field":"d","type":"nominal"}
   }}
 ],
 "resolve":{"axis":{"x":"independent","y":"independent"}}
}
]
}
